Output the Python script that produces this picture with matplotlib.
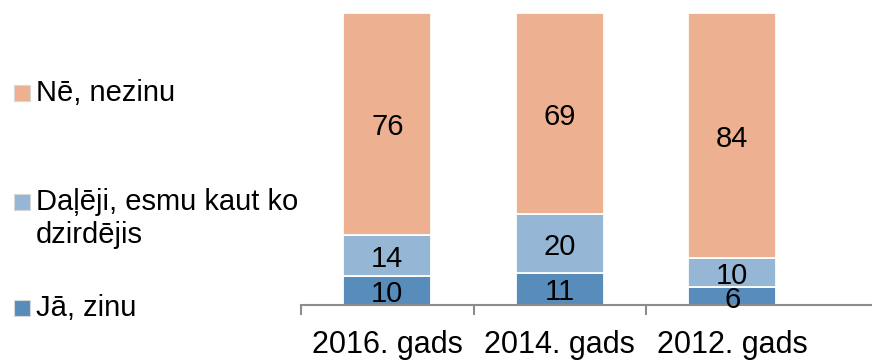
import matplotlib
matplotlib.use("Agg")
import matplotlib.pyplot as plt
from matplotlib.patches import Rectangle

plt.rcParams['font.family'] = ['Liberation Sans', 'DejaVu Sans']

categories = ["2016. gads", "2014. gads", "2012. gads"]
series_names = ["Jā, zinu", "Daļēji, esmu kaut ko\ndzirdējis", "Nē, nezinu"]
ja_zinu = [10, 11, 6]
daleji = [14, 20, 10]
ne_nezinu = [76, 69, 84]
series_values = [ja_zinu, daleji, ne_nezinu]
colors = ["#578CBB", "#95B6D4", "#EDB191"]

W, H = 872, 362
fig = plt.figure(figsize=(W / 100, H / 100), dpi=100)
ax = fig.add_axes([301 / W, (H - 305) / H, (W - 301) / W, 292 / H])

x = list(range(len(categories)))
bottoms = [0] * len(categories)
for vals, col in zip(series_values, colors):
    ax.bar(x, vals, bottom=bottoms, width=0.51, color=col,
           edgecolor="white", linewidth=1.3, zorder=2)
    for xi, b, v in zip(x, bottoms, vals):
        ax.text(xi, b + v / 2 - 1.2, f"{v}", ha="center", va="center",
                fontsize=21, color="black", zorder=3)
    bottoms = [b + v for b, v in zip(bottoms, vals)]

ax.set_ylim(0, 100)
ax.set_xlim(-0.5, -0.5 + (W - 301) / 172.5)
ax.set_yticks([])
for s in ["top", "right", "left"]:
    ax.spines[s].set_visible(False)
ax.spines["bottom"].set_color("#8C8C8C")
ax.spines["bottom"].set_linewidth(1.5)
ax.set_xticks([-0.5, 0.5, 1.5])
ax.set_xticklabels([])
ax.tick_params(axis="x", length=7.5, width=1.5, color="#8C8C8C", direction="out")
for xi, lab in zip(x, categories):
    ax.text(xi, -16.6, lab, ha="center", va="baseline", fontsize=22,
            clip_on=False)

# legend drawn at the left side of the figure
legend_rows = [(2, 93, 93), (1, 202, 218.5), (0, 308, 308)]
for idx, ysq, ytxt in legend_rows:
    sq = 16
    fig.patches.append(Rectangle((14 / W, (H - ysq - sq / 2) / H), sq / W, sq / H,
                                 transform=fig.transFigure, facecolor=colors[idx],
                                 edgecolor="#D8D8D8", linewidth=0.8))
    fig.text(36 / W, (H - ytxt) / H, series_names[idx],
             ha="left", va="center", fontsize=21, linespacing=1.23)

fig.savefig("out.png", dpi=100)
